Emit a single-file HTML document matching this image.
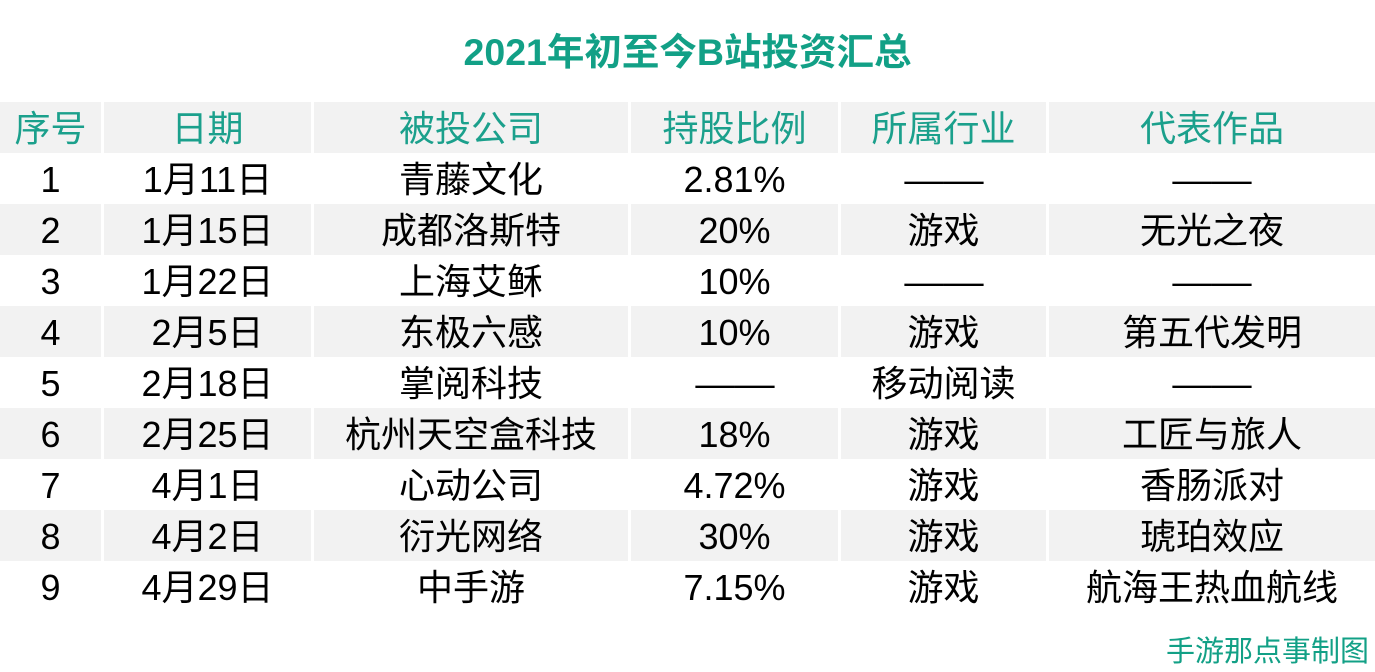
<!DOCTYPE html>
<html><head><meta charset="utf-8">
<style>
html,body{margin:0;padding:0;background:#fff;}
body{width:1375px;height:672px;position:relative;overflow:hidden;font-family:"Liberation Sans","Noto Sans CJK SC",sans-serif;}
.t{position:absolute;left:0;width:1375px;top:27px;text-align:center;font-size:37.5px;font-weight:bold;color:#12a086;line-height:50px;}
.c{position:absolute;height:51px;line-height:53px;text-align:center;font-size:36px;color:#000;white-space:nowrap;}
.g{background:#f2f2f2;}
.h{color:#1ba08c;}
.d{display:inline-block;transform:scaleX(1.1);}
.f{position:absolute;left:1166px;top:632px;font-size:29px;line-height:40px;color:#12a086;white-space:nowrap;}
</style></head><body>
<div class="t">2021年初至今B站投资汇总</div>

<!-- header -->
<div class="c g h" style="top:102px;left:0;width:101px">序号</div>
<div class="c g h" style="top:102px;left:104px;width:207px">日期</div>
<div class="c g h" style="top:102px;left:314px;width:314px">被投公司</div>
<div class="c g h" style="top:102px;left:631px;width:207px">持股比例</div>
<div class="c g h" style="top:102px;left:841px;width:205px">所属行业</div>
<div class="c g h" style="top:102px;left:1049px;width:326px">代表作品</div>

<!-- row1 -->
<div class="c" style="top:153px;left:0;width:101px">1</div>
<div class="c" style="top:153px;left:104px;width:207px">1月11日</div>
<div class="c" style="top:153px;left:314px;width:314px">青藤文化</div>
<div class="c" style="top:153px;left:631px;width:207px">2.81%</div>
<div class="c" style="top:153px;left:841px;width:205px"><span class="d">——</span></div>
<div class="c" style="top:153px;left:1049px;width:326px"><span class="d">——</span></div>

<!-- row2 -->
<div class="c g" style="top:204px;left:0;width:101px">2</div>
<div class="c g" style="top:204px;left:104px;width:207px">1月15日</div>
<div class="c g" style="top:204px;left:314px;width:314px">成都洛斯特</div>
<div class="c g" style="top:204px;left:631px;width:207px">20%</div>
<div class="c g" style="top:204px;left:841px;width:205px">游戏</div>
<div class="c g" style="top:204px;left:1049px;width:326px">无光之夜</div>

<!-- row3 -->
<div class="c" style="top:255px;left:0;width:101px">3</div>
<div class="c" style="top:255px;left:104px;width:207px">1月22日</div>
<div class="c" style="top:255px;left:314px;width:314px">上海艾稣</div>
<div class="c" style="top:255px;left:631px;width:207px">10%</div>
<div class="c" style="top:255px;left:841px;width:205px"><span class="d">——</span></div>
<div class="c" style="top:255px;left:1049px;width:326px"><span class="d">——</span></div>

<!-- row4 -->
<div class="c g" style="top:306px;left:0;width:101px">4</div>
<div class="c g" style="top:306px;left:104px;width:207px">2月5日</div>
<div class="c g" style="top:306px;left:314px;width:314px">东极六感</div>
<div class="c g" style="top:306px;left:631px;width:207px">10%</div>
<div class="c g" style="top:306px;left:841px;width:205px">游戏</div>
<div class="c g" style="top:306px;left:1049px;width:326px">第五代发明</div>

<!-- row5 -->
<div class="c" style="top:357px;left:0;width:101px">5</div>
<div class="c" style="top:357px;left:104px;width:207px">2月18日</div>
<div class="c" style="top:357px;left:314px;width:314px">掌阅科技</div>
<div class="c" style="top:357px;left:631px;width:207px"><span class="d">——</span></div>
<div class="c" style="top:357px;left:841px;width:205px">移动阅读</div>
<div class="c" style="top:357px;left:1049px;width:326px"><span class="d">——</span></div>

<!-- row6 -->
<div class="c g" style="top:408px;left:0;width:101px">6</div>
<div class="c g" style="top:408px;left:104px;width:207px">2月25日</div>
<div class="c g" style="top:408px;left:314px;width:314px">杭州天空盒科技</div>
<div class="c g" style="top:408px;left:631px;width:207px">18%</div>
<div class="c g" style="top:408px;left:841px;width:205px">游戏</div>
<div class="c g" style="top:408px;left:1049px;width:326px">工匠与旅人</div>

<!-- row7 -->
<div class="c" style="top:459px;left:0;width:101px">7</div>
<div class="c" style="top:459px;left:104px;width:207px">4月1日</div>
<div class="c" style="top:459px;left:314px;width:314px">心动公司</div>
<div class="c" style="top:459px;left:631px;width:207px">4.72%</div>
<div class="c" style="top:459px;left:841px;width:205px">游戏</div>
<div class="c" style="top:459px;left:1049px;width:326px">香肠派对</div>

<!-- row8 -->
<div class="c g" style="top:510px;left:0;width:101px">8</div>
<div class="c g" style="top:510px;left:104px;width:207px">4月2日</div>
<div class="c g" style="top:510px;left:314px;width:314px">衍光网络</div>
<div class="c g" style="top:510px;left:631px;width:207px">30%</div>
<div class="c g" style="top:510px;left:841px;width:205px">游戏</div>
<div class="c g" style="top:510px;left:1049px;width:326px">琥珀效应</div>

<!-- row9 -->
<div class="c" style="top:561px;left:0;width:101px">9</div>
<div class="c" style="top:561px;left:104px;width:207px">4月29日</div>
<div class="c" style="top:561px;left:314px;width:314px">中手游</div>
<div class="c" style="top:561px;left:631px;width:207px">7.15%</div>
<div class="c" style="top:561px;left:841px;width:205px">游戏</div>
<div class="c" style="top:561px;left:1049px;width:326px">航海王热血航线</div>

<div class="f">手游那点事制图</div>
</body></html>
